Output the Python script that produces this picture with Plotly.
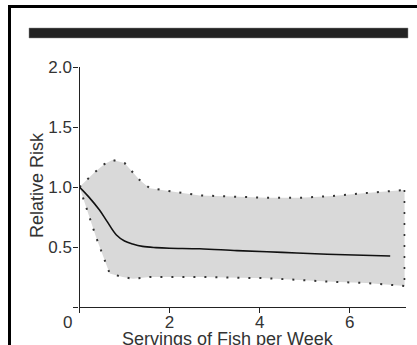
import plotly.graph_objects as go

W, H = 417, 345

# Central estimate
curve_x = [0, 0.2, 0.44, 0.6, 0.82, 1.0, 1.18, 1.4, 1.7, 2.0, 2.67, 3.5, 4.5, 5.5, 6.9]
curve_rr = [1.0, 0.92, 0.81, 0.72, 0.6, 0.55, 0.525, 0.505, 0.495, 0.49, 0.485, 0.47, 0.455, 0.44, 0.425]

# Confidence band
upper_x = [0, 0.11, 0.33, 0.55, 0.73, 1.0, 1.33, 1.56, 1.93, 2.67, 3.4, 4.15, 4.9, 5.62, 6.37, 7.22]
upper_rr = [1.0, 1.04, 1.12, 1.19, 1.225, 1.2, 1.06, 0.99, 0.97, 0.93, 0.92, 0.91, 0.91, 0.925, 0.95, 0.975]
lower_x = [0, 0.15, 0.37, 0.67, 0.96, 1.19, 1.56, 2.67, 4.15, 5.62, 6.37, 7.22]
lower_rr = [1.0, 0.83, 0.58, 0.28, 0.25, 0.235, 0.25, 0.25, 0.24, 0.21, 0.2, 0.175]

x_ticks = [0, 2, 4, 6]
x_ticktext = ["", "2", "4", "6"]
y_ticks = [0, 0.5, 1.0, 1.5, 2.0]
y_ticktext = ["", "0.5", "1.0", "1.5", "2.0"]

fig = go.Figure()

band_x = upper_x + lower_x[::-1]
band_y = upper_rr + lower_rr[::-1]
fig.add_trace(go.Scatter(x=band_x, y=band_y, fill="toself", fillcolor="#d9d9d9",
                         line=dict(width=0), mode="lines", hoverinfo="skip"))
dot = dict(color="#333333", width=2, dash="2px,9px")
fig.add_trace(go.Scatter(x=upper_x, y=upper_rr, mode="lines", line=dot))
fig.add_trace(go.Scatter(x=lower_x, y=lower_rr, mode="lines", line=dot))
fig.add_trace(go.Scatter(x=[upper_x[-1], lower_x[-1]], y=[upper_rr[-1], lower_rr[-1]],
                         mode="lines", line=dot))
fig.add_trace(go.Scatter(x=curve_x, y=curve_rr, mode="lines",
                         line=dict(color="#111111", width=1.6, shape="spline")))

font = dict(family="Liberation Sans, Arial, sans-serif", size=17, color="#333333")

def px(x):
    return x / W

def py(y):
    return 1 - y / H

fig.update_layout(
    width=W, height=H,
    margin=dict(l=0, r=0, t=0, b=0),
    paper_bgcolor="white", plot_bgcolor="white",
    showlegend=False,
    font=font,
    xaxis=dict(domain=[px(79.5), px(405.5)], range=[0, 7.24], showgrid=False, zeroline=False,
               showline=True, linecolor="#222222", linewidth=1.3,
               ticks="outside", ticklen=5, tickcolor="#222222", tickwidth=1.3,
               tickvals=x_ticks, ticktext=x_ticktext, tickfont=font, automargin=False,
               ticklabelstandoff=-6),
    yaxis=dict(domain=[py(307), py(67)], range=[0, 2.0], showgrid=False, zeroline=False,
               showline=True, linecolor="#222222", linewidth=1.3,
               ticks="outside", ticklen=5, tickcolor="#222222", tickwidth=1.3,
               tickvals=y_ticks, ticktext=y_ticktext, tickfont=font, automargin=False,
               ticklabelstandoff=-2),
    shapes=[
        dict(type="rect", xref="paper", yref="paper", x0=px(29), x1=px(408), y0=py(38), y1=py(28),
             fillcolor="#222222", line=dict(color="#888888", width=0.5)),
        dict(type="line", xref="paper", yref="paper", x0=px(9.5), x1=px(9.5), y0=py(5), y1=py(346),
             line=dict(color="black", width=3)),
        dict(type="line", xref="paper", yref="paper", x0=px(8), x1=px(418), y0=py(6.5), y1=py(6.5),
             line=dict(color="black", width=3)),
    ],
    annotations=[
        dict(text="0", xref="paper", yref="paper", x=px(67), y=py(322), showarrow=False,
             font=font, xanchor="center", yanchor="middle"),
        dict(text="Relative Risk", xref="paper", yref="paper", x=px(37), y=py(185), showarrow=False,
             font=dict(family=font["family"], size=18, color="#333333"), textangle=-90,
             xanchor="center", yanchor="middle"),
        dict(text="Servings of Fish per Week", xref="paper", yref="paper", x=px(228), y=py(339),
             showarrow=False, font=dict(family=font["family"], size=18, color="#333333"),
             xanchor="center", yanchor="middle"),
    ],
)

fig.write_html("out.html")
